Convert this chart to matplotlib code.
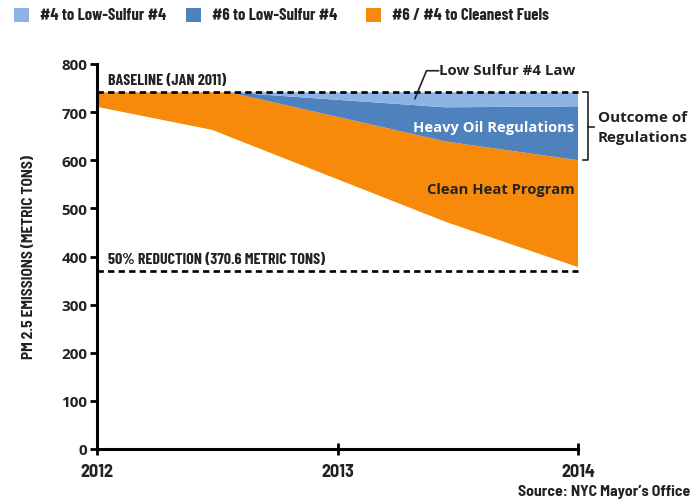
import matplotlib
matplotlib.use("Agg")
import matplotlib.pyplot as plt
from matplotlib.patches import Rectangle

# ---- data ----
years = [2012.0, 2012.48, 2012.55, 2013.45, 2014.0]
remaining = [711, 663, 649, 472, 378]
clean_heat = [30.2, 78.2, 92.2, 167, 222]
heavy_oil = [0, 0, 0, 71, 112]
low_sulfur = [0, 0, 0, 31.2, 29.2]
baseline = 741.2
reduction = 370.6
x_ticks = [2012, 2013, 2014]
x_tick_labels = ["2012", "2013", "2014"]
y_ticks = [0, 100, 200, 300, 400, 500, 600, 700, 800]
legend_labels = ["#4 to Low-Sulfur #4", "#6 to Low-Sulfur #4", "#6 / #4 to Cleanest Fuels"]

C_LIGHT = "#8DB3E2"
C_DARK = "#4F81BD"
C_ORANGE = "#F7890B"
INK = "#222222"
COND = ["Barlow Condensed", "DejaVu Sans"]
SEMI = ["Barlow Semi Condensed", "DejaVu Sans"]
OPEN = ["Open Sans", "DejaVu Sans"]

W, H = 699, 502
fig = plt.figure(figsize=(W/100, H/100), dpi=100)
ax = fig.add_axes([97/W, 52/H, 481/W, 385/H])

ax.stackplot(years, remaining, clean_heat, heavy_oil, low_sulfur,
             colors=["none", C_ORANGE, C_DARK, C_LIGHT], linewidth=0)

for yv in (baseline, reduction):
    ax.plot([2012, 2014], [yv, yv], color="black", lw=1.9,
            dashes=(2.4, 1.6), clip_on=False)

ax.set_xlim(2012, 2014)
ax.set_ylim(0, 800)
for s in ["top", "right"]:
    ax.spines[s].set_visible(False)
for s in ["left", "bottom"]:
    ax.spines[s].set_linewidth(2.2)
ax.set_xticks(x_ticks)
ax.set_xticklabels(x_tick_labels, fontfamily=SEMI, fontweight="bold", fontsize=13, color=INK)
ax.set_yticks(y_ticks)
ax.set_yticklabels([str(v) for v in y_ticks], fontfamily=OPEN, fontweight="bold", fontsize=11, color=INK)
ax.tick_params(axis="y", direction="out", length=5, width=2, pad=2)
ax.tick_params(axis="x", direction="inout", length=8, width=2, pad=6)

ax.set_ylabel("PM 2.5 EMISSIONS (METRIC TONS)", fontfamily=SEMI, fontweight="bold",
              fontsize=11, color=INK, labelpad=18)

# annotations (data coordinates)
ax.text(2012.045, 752, "BASELINE (JAN 2011)", fontfamily=COND, fontweight="bold",
        fontsize=11.5, color=INK, va="bottom", ha="left")
ax.text(2012.045, 381, "50% REDUCTION (370.6 METRIC TONS)", fontfamily=COND, fontweight="bold",
        fontsize=11.5, color=INK, va="bottom", ha="left")
ax.text(2013.99, 787, "Low Sulfur #4 Law", fontfamily=OPEN,
        fontweight="bold", fontsize=10.8, color=INK, ha="right", va="center")
ax.plot([2013.42, 2013.37, 2013.322], [786, 786, 728],
        color=INK, lw=1.2, clip_on=False)
ax.text(2013.985, 669, "Heavy Oil Regulations", fontfamily=OPEN,
        fontweight="bold", fontsize=10.6, color="white", ha="right", va="center")
ax.text(2013.985, 540, "Clean Heat Program", fontfamily=OPEN,
        fontweight="bold", fontsize=10.6, color=INK, ha="right", va="center")

# bracket
bx = 2014 + 10/240.5
ax.plot([bx - 5/240.5, bx, bx, bx - 5/240.5], [baseline, baseline, 600, 600],
        color=INK, lw=1.2, clip_on=False)
ax.plot([bx, bx + 6/240.5], [669, 669], color=INK, lw=1.2, clip_on=False)
ax.text(bx + 10/240.5, 670, "Outcome of\nRegulations",
        fontfamily=OPEN, fontweight="bold", fontsize=11, color=INK,
        ha="left", va="center", linespacing=1.55)

# legend (manual, figure pixel positions)
for x0, c, lab in zip([14, 186, 366], [C_LIGHT, C_DARK, C_ORANGE], legend_labels):
    fig.patches.append(Rectangle((x0/W, 1 - 23/H), 15/W, 14/H, transform=fig.transFigure,
                                 facecolor=c, edgecolor="none"))
    fig.text((x0 + 26)/W, 1 - 16/H, lab, fontfamily=COND, fontweight="bold",
             fontsize=12, color=INK, ha="left", va="center")

fig.text(690/W, 1 - 492/H, "Source: NYC Mayor\u2019s Office", fontfamily=SEMI,
         fontweight="bold", fontsize=11.3, color=INK, ha="right", va="center")

fig.savefig("out.png", dpi=100)
